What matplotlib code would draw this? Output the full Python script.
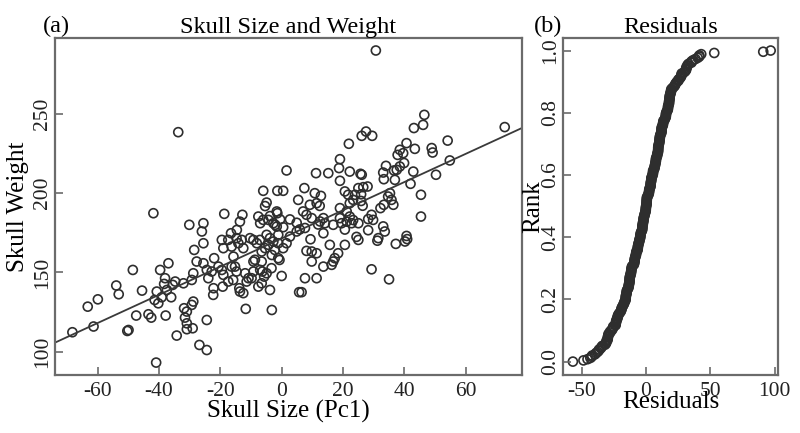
import matplotlib
matplotlib.use("Agg")
import matplotlib.pyplot as plt
import numpy as np

plt.rcParams["font.family"] = ["Liberation Serif", "DejaVu Serif"]

# skull size (Pc1) and skull weight
skull_size = [
    -68.2, -61.3, -63.2, -59.9, -53.9, -53.1, -48.5, -45.5, -47.4, -50.3,
    -49.9, -43.4, -42.5, -41.8, -40.9, -41.4, -40.2, -39.1, -39.6, -38.0,
    -38.3, -37.4, -36.9, -36.0, -37.8, -35.5, -34.7, -34.2, -33.7, -32.0,
    -31.8, -30.9, -31.5, -30.9, -30.9, -40.7,
    -29.0, -30.1, -29.3, -28.8, -28.5, -28.8, -29.3, -26.8, -25.5, -26.0,
    -25.5, -27.7, -25.5, -24.4, -24.4, -23.9, -24.4, -22.8, -22.2, -22.0,
    -20.6, -19.5, -19.0, -19.5, -19.0, -18.7, -19.2, -17.4, -17.4, -16.5,
    -16.3, -15.7, -13.6, -13.8, -15.2, -14.6, -13.6, -12.8, -13.0, -12.5,
    -14.1, -11.9, -11.7, -10.8, -10.3, -16.3, -15.8, -14.7, -22.3, -12.5,
    -9.8, -11.4, -14.7,
    -9.2, -8.1, -9.2, -9.2, -7.6, -7.0, -6.0, -7.6, -6.5, -5.7,
    -4.9, -7.0, -6.3, -6.5, -5.4, -4.9, -3.8, -4.3, -6.0, -4.9,
    -4.3, -2.1, -1.4, -3.2, -3.8, -3.2, -1.1, -1.1, -0.7, 0.0,
    -1.4, 0.5, -1.1, -3.3, -2.7, -1.6, 0.5, -8.7, -6.5, -7.1,
    -2.7, -2.2, -5.4, -3.8, -0.5, -1.6,
    1.6, 11.2, 15.2, 7.4, 10.8, 12.8, 5.4, 9.2, 11.4, 7.0,
    8.1, 9.8, 12.5, 13.6, 14.1, 16.8, 4.9, 13.6, 9.4, 15.7,
    11.4, 9.8, 8.1, 9.8, 18.4, 17.3, 16.8, 16.3, 13.6, 11.4,
    7.6, 5.7, 6.5, 1.6, 0.5, 2.7, 2.7, 4.9, 5.9, 7.6,
    11.9, 12.4,
    18.7, 22.2, 25.7, 19.0, 19.0, 21.9, 20.6, 21.7, 25.0, 26.6,
    28.0, 26.1, 27.5, 26.1, 29.5, 34.0, 33.1, 33.3, 36.9, 36.6,
    37.5, 38.5, 39.9, 35.3, 34.7, 35.8, 36.4, 33.3, 32.2, 29.3,
    28.2, 29.8, 33.1, 33.6, 31.5, 31.2, 37.2, 40.2, 40.9, 29.3,
    35.0, 25.0, 20.6, 19.0, 19.5, 21.2, 22.2, 21.2, 22.8, 22.2,
    23.9, 23.3, 30.7, 40.7, 25.9, 25.9, 26.4, 20.6, 23.3, 25.0,
    24.4, 28.2, 19.0,
    72.7, 46.5, 46.1, 43.1, 54.1, 40.7, 38.5, 39.6, 37.8, 43.4,
    48.9, 49.2, 54.8, 42.9, 50.3, 42.0, 45.4, 45.4,
]
skull_weight = [
    112.4, 116.0, 128.5, 133.1, 141.8, 136.3, 151.6, 138.6, 122.9, 113.2,
    113.8, 123.7, 121.6, 187.3, 93.3, 132.7, 130.6, 134.4, 151.6, 146.4,
    142.8, 139.0, 155.8, 134.4, 122.9, 142.2, 144.3, 110.3, 238.3, 143.2,
    127.5, 125.4, 121.6, 118.0, 114.3, 138.0,
    114.9, 180.0, 145.3, 149.5, 164.2, 131.7, 129.6, 104.4, 181.0, 175.8,
    168.4, 156.9, 155.8, 101.2, 120.1, 146.4, 151.6, 150.6, 140.1, 159.0,
    153.7, 151.6, 148.5, 170.5, 165.3, 186.9, 141.1, 144.3, 170.5, 174.7,
    166.3, 160.0, 138.0, 140.1, 153.7, 176.8, 182.0, 186.3, 170.5, 165.3,
    168.4, 149.5, 127.1, 146.4, 171.6, 153.7, 145.3, 150.6, 135.9, 137.0,
    146.4, 144.3, 171.6,
    170.5, 168.4, 156.9, 150.6, 185.2, 181.0, 183.1, 141.1, 143.2, 147.4,
    149.5, 151.6, 150.6, 163.2, 165.3, 173.7, 171.6, 167.4, 201.4, 194.0,
    183.1, 180.0, 187.3, 161.0, 139.0, 126.4, 173.7, 168.4, 157.9, 147.8,
    201.4, 201.4, 159.0, 152.7, 181.0, 178.9, 178.5, 158.0, 156.9, 170.5,
    169.5, 164.2, 191.8, 185.5, 183.4, 188.4,
    214.2, 212.5, 212.5, 203.1, 199.9, 198.2, 195.7, 192.6, 193.6, 188.4,
    186.3, 184.2, 182.1, 184.2, 181.0, 180.0, 175.8, 174.7, 170.9, 167.4,
    162.1, 163.2, 163.6, 156.9, 162.1, 159.0, 156.9, 154.8, 153.7, 146.4,
    146.4, 137.6, 137.6, 168.4, 165.3, 172.6, 183.4, 181.3, 177.1, 178.0,
    180.2, 191.9,
    215.7, 213.5, 212.1, 207.7, 221.3, 231.0, 201.0, 198.9, 203.1, 203.7,
    204.1, 211.5, 238.7, 236.0, 236.0, 217.1, 212.9, 208.7, 208.3, 214.2,
    214.6, 216.7, 218.9, 199.9, 197.8, 195.7, 192.6, 192.6, 190.5, 186.3,
    183.6, 183.1, 179.0, 175.8, 171.6, 170.0, 168.0, 169.5, 171.0, 152.0,
    145.7, 170.5, 167.4, 190.5, 181.0, 182.0, 185.2, 188.4, 181.0, 193.6,
    198.9, 195.7, 289.7, 173.0, 199.2, 195.0, 192.0, 177.0, 183.0, 181.0,
    172.4, 176.6, 184.2,
    241.5, 249.2, 242.9, 240.9, 233.0, 231.4, 227.2, 225.1, 224.0, 227.8,
    228.3, 225.5, 220.5, 213.5, 211.5, 205.8, 198.9, 185.2,
]

x_ticks = [-60, -40, -20, 0, 20, 40, 60]
y_ticks = [100, 150, 200, 250]
res_ticks = [-50, 0, 50, 100]
rank_ticks = [0.0, 0.2, 0.4, 0.6, 0.8, 1.0]

x = np.array(skull_size)
y = np.array(skull_weight)

# least squares line and its residuals
slope, intercept = np.polyfit(x, y, 1)
residuals = np.sort(y - (intercept + slope * x))
rank = np.arange(len(residuals)) / (len(residuals) - 1)

EDGE = "#2e2e2e"
SPINE = "#6b6b6b"
TICK_FS = 15.5
LABEL_FS = 18
TITLE_FS = 17.5

fig = plt.figure(figsize=(8, 4.33), dpi=100)
ax1 = fig.add_axes([0.069, 0.134, 0.583, 0.778])
ax2 = fig.add_axes([0.704, 0.134, 0.269, 0.778])

for ax in (ax1, ax2):
    for s in ax.spines.values():
        s.set_color(SPINE)
        s.set_linewidth(1.6)
    ax.tick_params(direction="in", length=6, width=1.2, color=SPINE,
                   labelsize=TICK_FS, labelcolor="#222222")
    ax.tick_params(axis="x", pad=5)
    ax.tick_params(axis="y", pad=2)

# (a) scatter with fitted line
ax1.scatter(x, y, s=42, facecolors="none", edgecolors=EDGE, linewidths=1.2)
xl = np.array([-74.5, 78.5])
ax1.plot(xl, intercept + slope * xl, color="#3a3a3a", lw=1.3)
ax1.set_xlim(-73.8, 78.2)
ax1.set_ylim(85.5, 297.5)
ax1.set_xticks(x_ticks)
ax1.set_yticks(y_ticks)
ax1.set_xticklabels([str(v) for v in x_ticks])
ax1.set_yticklabels([str(v) for v in y_ticks], rotation=90, va="center")
ax1.set_xlabel("Skull Size (Pc1)", fontsize=LABEL_FS, labelpad=-1)
ax1.set_ylabel("Skull Weight", fontsize=LABEL_FS, labelpad=3)
ax1.set_title("Skull Size and Weight", fontsize=TITLE_FS, pad=3)
fig.text(0.053, 0.925, "(a)", fontsize=TITLE_FS)

# (b) ranked residuals
ax2.scatter(residuals, rank, s=42, facecolors="none", edgecolors=EDGE,
            linewidths=1.2)
ax2.set_xlim(-64.3, 102.8)
ax2.set_ylim(-0.043, 1.04)
ax2.set_xticks(res_ticks)
ax2.set_yticks(rank_ticks)
ax2.set_xticklabels([str(v) for v in res_ticks])
ax2.set_yticklabels([f"{v:.1f}" for v in rank_ticks], rotation=90, va="center")
ax2.set_xlabel("Residuals", fontsize=LABEL_FS, labelpad=-7)
ax2.set_ylabel("Rank", fontsize=LABEL_FS, labelpad=-2)
ax2.set_title("Residuals", fontsize=TITLE_FS, pad=3)
fig.text(0.667, 0.925, "(b)", fontsize=TITLE_FS)

fig.savefig("out.png", dpi=100, facecolor="white")
